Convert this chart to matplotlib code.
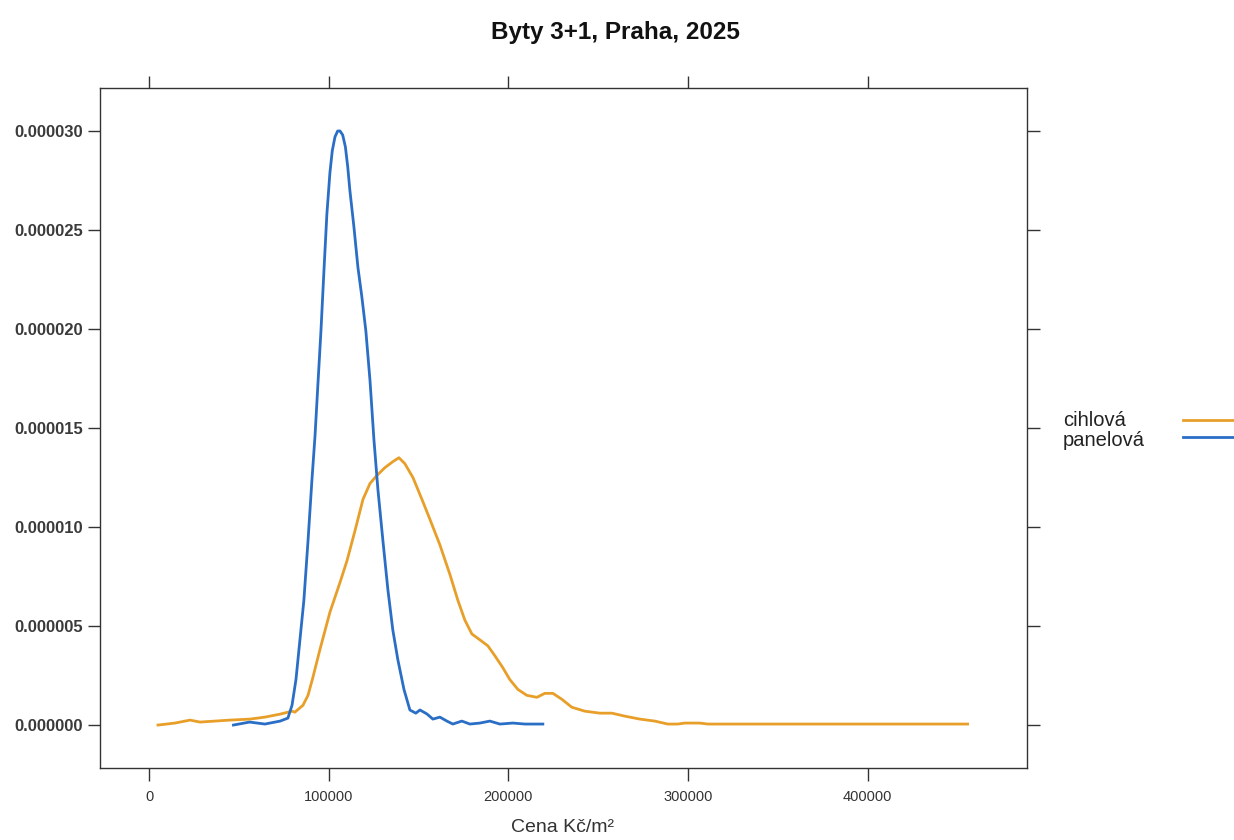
import numpy as np
import matplotlib
matplotlib.use("Agg")
import matplotlib.pyplot as plt
from matplotlib.lines import Line2D

plt.rcParams['font.family'] = ['Liberation Sans', 'DejaVu Sans']

# density curves (price Kč/m², density)
panel_x = [47000, 56000, 64500, 73000, 77300, 79600, 81800, 84000, 86200, 88500,
           90700, 92400, 94000, 95700, 97400, 99000, 100700, 102000, 103500, 105000,
           106300, 107800, 109300, 110600, 111800, 114000, 116300, 118500, 120700, 123000,
           125200, 127400, 130200, 133000, 135700, 138500, 141900, 145200, 148500, 150800,
           154700, 158000, 161900, 165800, 169100, 174100, 178600, 184200, 189700, 195300,
           202500, 209200, 219200]
panel_y = [0.0, 0.15e-6, 0.05e-6, 0.2e-6, 0.35e-6, 1.0e-6, 2.3e-6, 4.3e-6, 6.3e-6, 9.3e-6,
           12.4e-6, 14.6e-6, 17.2e-6, 19.9e-6, 23.0e-6, 25.8e-6, 27.9e-6, 29.0e-6, 29.7e-6, 30.0e-6,
           30.0e-6, 29.8e-6, 29.2e-6, 28.2e-6, 27.0e-6, 25.2e-6, 23.1e-6, 21.6e-6, 19.9e-6, 17.4e-6,
           14.4e-6, 11.9e-6, 9.3e-6, 6.8e-6, 4.8e-6, 3.3e-6, 1.8e-6, 0.76e-6, 0.6e-6, 0.76e-6,
           0.56e-6, 0.3e-6, 0.4e-6, 0.2e-6, 0.05e-6, 0.2e-6, 0.05e-6, 0.1e-6, 0.2e-6, 0.05e-6,
           0.1e-6, 0.05e-6, 0.05e-6]

cihla_x = [5000, 14500, 22800, 28400, 36700, 45100, 56200, 64500, 72900, 79600,
           81200, 85700, 88500, 91200, 95100, 100700, 106300, 110200, 114600, 119100,
           123000, 126800, 131300, 135700, 139100, 142400, 146900, 151900, 156300, 161900,
           167500, 171900, 175800, 179700, 184200, 188600, 192500, 196900, 200800, 205300,
           210300, 215900, 220300, 224800, 229800, 235300, 242600, 250900, 257600, 264800,
           273200, 281500, 288700, 294300, 298200, 306500, 311000, 455600]
cihla_y = [0.0, 0.1e-6, 0.25e-6, 0.15e-6, 0.2e-6, 0.25e-6, 0.3e-6, 0.4e-6, 0.55e-6, 0.7e-6,
           0.65e-6, 1.0e-6, 1.5e-6, 2.4e-6, 3.8e-6, 5.7e-6, 7.2e-6, 8.3e-6, 9.8e-6, 11.4e-6,
           12.2e-6, 12.6e-6, 13.0e-6, 13.3e-6, 13.5e-6, 13.2e-6, 12.5e-6, 11.4e-6, 10.4e-6, 9.1e-6,
           7.6e-6, 6.3e-6, 5.3e-6, 4.6e-6, 4.3e-6, 4.0e-6, 3.5e-6, 2.9e-6, 2.3e-6, 1.8e-6,
           1.5e-6, 1.4e-6, 1.6e-6, 1.6e-6, 1.3e-6, 0.9e-6, 0.7e-6, 0.6e-6, 0.6e-6, 0.45e-6,
           0.3e-6, 0.2e-6, 0.05e-6, 0.05e-6, 0.1e-6, 0.1e-6, 0.05e-6, 0.05e-6]

x_ticks = [0, 100000, 200000, 300000, 400000]
y_ticks = [0.0, 0.000005, 0.000010, 0.000015, 0.000020, 0.000025, 0.000030]
labels = ["cihlová", "panelová"]
colors = ["#E89F2A", "#2A6EC6"]

fig = plt.figure(figsize=(12.34, 8.4), dpi=100)
ax = fig.add_axes([0.081, 0.0857, 0.751, 0.8095])

ax.plot(cihla_x, cihla_y, color=colors[0], lw=2.0)
ax.plot(panel_x, panel_y, color=colors[1], lw=2.0)

ax.set_xlim(-27300, 488500)
ax.set_ylim(-2.17e-6, 3.217e-5)
ax.set_xticks(x_ticks)
ax.set_xticklabels([str(v) for v in x_ticks], fontsize=10.5, color="#333333")
ax.set_yticks(y_ticks)
ax.set_yticklabels(["%.6f" % v for v in y_ticks], fontsize=12, fontweight="bold",
                   color="#3a3a3a")
ax.tick_params(axis="both", direction="out", length=9, width=1, color="#333333",
               top=True, right=True)
ax.tick_params(axis="x", pad=7)
ax.tick_params(axis="y", pad=3)
for s in ax.spines.values():
    s.set_color("#333333")
    s.set_linewidth(1.0)

fig.text(0.499, 0.961, "Byty 3+1, Praha, 2025", ha="center", va="center",
         fontsize=17.5, fontweight="bold", color="#111111")
fig.text(0.456, 0.015, "Cena Kč/m²", ha="center", va="center", fontsize=14, color="#333333")

# legend on the right
for i, (lab, col) in enumerate(zip(labels, colors)):
    yy = 1 - (421 + 19 * i) / 840
    fig.text(1063 / 1234, yy, lab, ha="left", va="center", fontsize=14.5, color="#222222")
    fig.add_artist(Line2D([1183 / 1234, 1.0], [1 - (420 + 17 * i) / 840] * 2,
                          color=col, lw=2.0, transform=fig.transFigure))

plt.savefig("out.png", dpi=100)
